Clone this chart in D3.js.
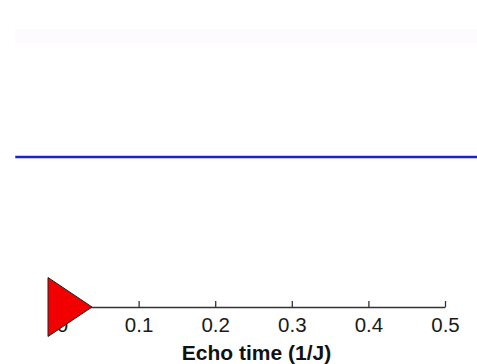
<!DOCTYPE html>
<html><head><meta charset="utf-8">
<script src="https://cdn.jsdelivr.net/npm/d3@7"></script>
<style>html,body{margin:0;padding:0;background:#fff;}svg{display:block;}</style>
</head><body>
<svg id="c" width="477" height="364"></svg>
<script>
const xTicks = [0, 0.1, 0.2, 0.3, 0.4, 0.5];
const xTickLabels = ["0", "0.1", "0.2", "0.3", "0.4", "0.5"];
const lineX = [-0.061, 0.55];
const lineY = [0.5, 0.5];
const markerX = [0];
const markerY = [0];
const xLabel = "Echo time (1/J)";

const svg = d3.select("#c");
const x = d3.scaleLinear().domain([0, 0.5]).range([62, 445]);
const y = d3.scaleLinear().domain([0, 1]).range([307, 7]);

// faint band (artifact)
svg.append("rect").attr("x", 15).attr("y", 29).attr("width", 462).attr("height", 14).attr("fill", "#fdfbfd");

// blue line
svg.append("path")
  .datum(lineX.map((d, i) => [d, lineY[i]]))
  .attr("d", d3.line().x(d => x(d[0])).y(d => y(d[1])))
  .attr("stroke", "#1e1ed2").attr("stroke-width", 2.5).attr("fill", "none");

// x axis
const ax = d3.axisBottom(x).tickValues(xTicks).tickFormat((d, i) => xTickLabels[i])
  .tickSizeInner(-6).tickSizeOuter(0).tickPadding(10);
const g = svg.append("g").attr("transform", `translate(0,${y(0)})`).call(ax);
g.select(".domain").attr("stroke", "#333").attr("stroke-width", 1.3);
g.selectAll(".tick line").attr("stroke", "#333").attr("stroke-width", 1.3);
g.selectAll(".tick text").attr("fill", "#1a1a1a").attr("dy", "0").attr("y", 24.5)
  .style("font-family", "'Liberation Sans', Arial, sans-serif").style("font-size", "20.5px");

// marker
markerX.forEach((mx, i) => {
  const cx = x(mx) + 0.5, cy = y(markerY[i]);
  svg.append("path")
    .attr("d", `M${cx - 14.5},${cy - 29.5} L${cx + 29.5},${cy} L${cx - 14.5},${cy + 29.5} Z`)
    .attr("fill", "#f20000").attr("stroke", "#222").attr("stroke-width", 1);
});

// x label
svg.append("text").attr("x", 256.5).attr("y", 360).attr("text-anchor", "middle")
  .style("font-family", "'Liberation Sans', Arial, sans-serif").style("font-size", "21px")
  .style("font-weight", "bold").attr("fill", "#111").text(xLabel);
</script>
</body></html>
